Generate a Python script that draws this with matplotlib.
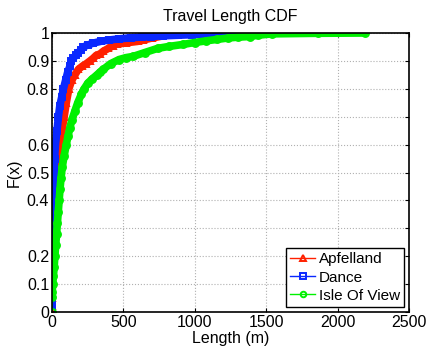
import matplotlib
matplotlib.use("Agg")
import matplotlib.pyplot as plt
import numpy as np

plt.rcParams['font.family'] = ['Liberation Sans', 'DejaVu Sans']

# CDF curves: length (m) and F(x)
apf_x = [0, 0, 0, 0, 1, 2, 4, 7, 11, 16, 23, 32, 42, 55, 70, 85, 100, 118, 138, 160,
         185, 210, 240, 266, 290, 310, 336, 360, 395, 430, 455, 520, 600, 640, 700, 760, 800, 840, 850]
apf_y = [0, .02, .05, .1, .15, .2, .25, .3, .35, .4, .45, .5, .55, .6, .65, .7, .75, .8, .83, .85,
         .87, .88, .89, .9, .91, .92, .925, .935, .945, .955, .96, .965, .97, .975, .982, .988, .993, .997, 1.0]

dan_x = [0, 0, 0, 1, 2, 3, 4, 6, 8, 10, 12, 14, 18, 24, 35, 45, 55, 68, 80, 95, 110, 125, 135,
         150, 165, 185, 205, 220, 250, 290, 340, 400, 470, 550, 630, 690, 780, 880, 980, 1100, 1230, 1330, 1400]
dan_y = [0, .02, .05, .1, .15, .2, .25, .3, .35, .4, .45, .5, .55, .6, .65, .7, .74, .77, .8, .83, .86, .88, .9,
         .91, .92, .93, .94, .95, .957, .964, .97, .975, .979, .983, .986, .9875, .99, .992, .994, .996, .998, .999, 1.0]

iov_x = [0, 0, 1, 5, 10, 15, 20, 26, 32, 38, 44, 50, 56, 63, 72, 85, 100, 112, 125, 140, 160, 180,
         205, 225, 250, 280, 315, 336, 360, 410, 470, 520, 567, 650, 740, 820, 917, 1000, 1080, 1155,
         1230, 1300, 1386, 1440, 1540, 1860, 2190]
iov_y = [0, .054, .07, .1, .13, .16, .2, .24, .28, .32, .36, .4, .44, .48, .52, .56, .6, .63, .66, .69, .72, .75,
         .78, .8, .82, .835, .85, .86, .87, .89, .905, .912, .916, .93, .945, .952, .959, .966, .972, .977,
         .982, .985, .9875, .992, .997, .999, 1.0]

names = ['Apfelland', 'Dance', 'Isle Of View']
colors = ['#ff2000', '#0a28ff', '#00f000']
markers = ['^', 's', 'o']

fig = plt.figure(figsize=(4.28, 3.49), dpi=100)
ax = fig.add_axes([0.1215, 0.106, 0.834, 0.7994])

series = [(apf_x, apf_y), (dan_x, dan_y), (iov_x, iov_y)]
for (xs, ys), name, c, m in zip(series, names, colors, markers):
    # thick band that the dense MATLAB markers make
    ax.plot(xs[1:], ys[1:], color=c, lw=5.5, solid_capstyle='round', zorder=2)
    ax.plot(xs, ys, color=c, lw=1, marker=m, ms=5, mfc='none', mew=1.4,
            label=name, zorder=2)

ax.set_xlim(0, 2500)
ax.set_ylim(0, 1)
ax.set_xticks([0, 500, 1000, 1500, 2000, 2500])
yt = [0, .1, .2, .3, .4, .5, .6, .7, .8, .9, 1]
ax.set_yticks(yt)
ax.set_yticklabels(['0', '0.1', '0.2', '', '0.4', '0.5', '0.6', '', '0.8', '0.9', '1'])
ax.tick_params(direction='in', length=3, top=True, right=True, labelsize=11.5, pad=2)
ax.grid(True, linestyle=':', color='#b0b0b0', linewidth=0.8)
ax.set_axisbelow(True)
for s in ax.spines.values():
    s.set_linewidth(1.2)

ax.set_title('Travel Length CDF', fontsize=11.5, pad=9)
ax.set_xlabel('Length (m)', fontsize=11.5, labelpad=1)
ax.set_ylabel('F(x)', fontsize=11.5, labelpad=4)

leg = ax.legend(loc='lower right', fontsize=11, fancybox=False, framealpha=1,
                edgecolor='black', borderpad=0.3, labelspacing=0.28,
                handlelength=1.6, handletextpad=0.25, borderaxespad=0.3,
                markerscale=0.8)
leg.get_frame().set_linewidth(1.0)

fig.savefig('out.png', dpi=100)
